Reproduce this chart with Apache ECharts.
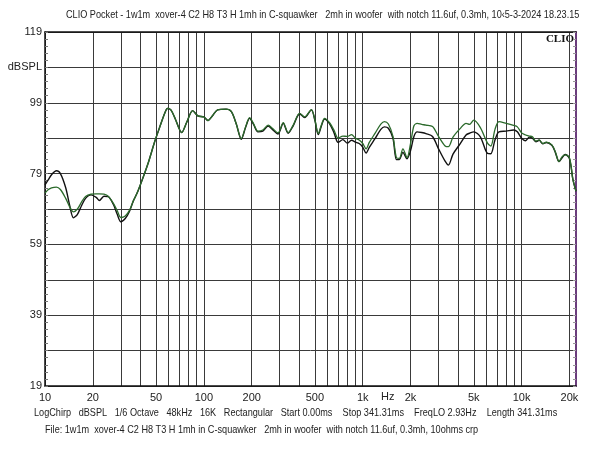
<!DOCTYPE html>
<html>
<head>
<meta charset="utf-8">
<title>CLIO Pocket response</title>
<style>
  html, body { margin: 0; padding: 0; background: #fff; }
  #main { width: 600px; height: 450px; }
</style>
</head>
<body>
<div id="main"></div>
<script src="https://cdn.jsdelivr.net/npm/echarts@6/dist/echarts.min.js"></script>
<script>
// measurement points, Hz
var freqs = [10, 10.5, 11, 11.8, 12.5, 13.5, 14.3, 15.1, 16, 17, 18, 19.5, 21, 22, 23.5, 25, 27, 28.5, 30, 32,
  34, 36, 38, 41.5, 45, 49, 52.8, 56.8, 59, 62, 66, 72.5, 78, 85, 91.6, 100, 106, 114, 122, 138,
  149, 160, 172, 183, 194, 205, 219, 235, 254, 270, 293, 316, 339, 365, 401, 431, 475, 500, 525, 550,
  575, 620, 660, 700, 750, 800, 850, 900, 950, 1000, 1050, 1100, 1200, 1300, 1370, 1450, 1550, 1630, 1700, 1790,
  1900, 2000, 2100, 2200, 2350, 2500, 2750, 3000, 3300, 3460, 3700, 4100, 4470, 4700, 5000, 5500, 6100, 6400, 6800, 7200,
  8000, 8900, 9400, 10000, 10600, 11200, 11700, 12300, 12900, 13600, 14300, 15500, 16300, 17200, 18000, 18800, 19900, 20500, 21000, 22000];

// black trace, dBSPL
var blackDb = [75.8, 77.3, 78.7, 79.8, 79.0, 75.0, 70.0, 66.5, 67.5, 70.0, 72.0, 73.0, 72.3, 71.4, 72.6, 72.5, 70.2, 67.5, 65.4, 66.3,
  68.3, 71.3, 73.5, 78.0, 82.5, 88.0, 92.2, 96.1, 97.4, 97.0, 94.5, 90.6, 93.5, 96.8, 95.3, 95.0, 94.0, 95.5, 97.0, 97.2,
  96.5, 93.0, 88.7, 92.0, 94.6, 93.0, 90.8, 91.0, 92.4, 91.5, 90.2, 93.2, 90.4, 92.5, 95.9, 94.8, 97.0, 94.0, 90.0, 92.5,
  94.4, 93.0, 90.5, 87.8, 88.6, 87.6, 88.4, 87.9, 87.5, 86.5, 84.8, 86.4, 89.0, 91.5, 92.2, 91.8, 89.0, 83.0, 83.0, 85.0,
  83.2, 85.5, 89.5, 90.8, 90.6, 90.3, 89.5, 86.0, 82.5, 81.4, 84.5, 87.4, 89.9, 90.4, 90.8, 89.4, 84.7, 84.6, 88.5, 90.8,
  91.0, 91.3, 90.8, 89.0, 88.3, 89.3, 89.0, 88.0, 88.4, 87.4, 87.8, 87.0, 85.0, 82.4, 83.5, 84.4, 83.5, 80.9, 77.5, 74.0];

// green trace, dBSPL
var greenDb = [73.5, 74.5, 75.0, 75.2, 74.5, 72.0, 69.6, 68.2, 69.0, 71.0, 72.5, 73.2, 73.3, 73.3, 73.2, 72.6, 70.5, 68.5, 66.6, 67.0,
  68.6, 71.3, 73.5, 78.0, 82.5, 88.0, 92.2, 96.1, 97.4, 97.0, 94.5, 90.6, 93.5, 96.8, 95.3, 95.0, 94.0, 95.5, 97.0, 97.2,
  96.5, 93.0, 88.9, 92.2, 94.8, 93.2, 91.0, 91.3, 92.7, 91.8, 90.5, 93.4, 90.6, 92.7, 96.0, 95.0, 97.1, 94.2, 90.3, 92.8,
  94.6, 93.3, 91.2, 89.0, 89.6, 89.5, 90.0, 89.0, 88.5, 87.5, 86.0, 87.8, 90.5, 93.0, 93.7, 93.0, 89.5, 83.5, 83.3, 86.0,
  83.5, 87.5, 92.5, 93.2, 92.9, 92.7, 92.3, 89.5, 86.8, 86.6, 89.3, 91.7, 93.2, 92.9, 94.1, 92.0, 87.6, 86.8, 91.5, 93.7,
  93.2, 92.6, 92.2, 90.5, 89.9, 89.6, 89.4, 88.2, 88.5, 87.5, 87.9, 87.1, 85.2, 82.4, 83.8, 84.3, 83.7, 81.0, 77.5, 74.0];

// vertical grid lines and labelled frequencies
var gridFreqs = [10, 20, 30, 40, 50, 60, 70, 80, 90, 100, 200, 300, 400, 500, 600, 700, 800, 900, 1000,
  2000, 3000, 4000, 5000, 6000, 7000, 8000, 9000, 10000, 20000];
var freqLabels = [10, 20, 50, 100, 200, 500, 1000, 2000, 5000, 10000, 20000];

// horizontal grid lines and labels
var dbLines = [19, 29, 39, 49, 59, 69, 79, 89, 99, 109, 119];
var dbLabels = [19, 39, 59, 79, 99, 109, 119];

var dbTicks = [];
for (var t = 19; t <= 119; t += 2) dbTicks.push(t);

function pairs(ys) {
  return freqs.map(function (f, i) { return [f, ys[i]]; });
}

// the header/footer font in the original is a narrow sans; squeeze Liberation Sans to fit
function narrowText(str, x, y) {
  return {
    type: 'text', x: x, y: y, scaleX: 0.83,
    style: { text: str, font: '11px "Liberation Sans"', fill: '#222', verticalAlign: 'middle' }
  };
}

var myChart = echarts.init(document.getElementById('main'));

var option = {
  animation: false,
  backgroundColor: '#fff',
  textStyle: { fontFamily: 'Liberation Sans' },
  grid: { left: 45, right: 24, top: 32, bottom: 64 },
  xAxis: [
    {
      type: 'log', logBase: 10, min: 10, max: 22000,
      axisLine: { show: true, lineStyle: { color: '#111', width: 1.5 } },
      axisTick: { show: false, customValues: gridFreqs },
      axisLabel: {
        customValues: freqLabels, margin: 6, color: '#222', fontSize: 11,
        formatter: function (v) { return v >= 1000 ? (v / 1000) + 'k' : String(v); }
      },
      splitLine: { show: true, lineStyle: { color: '#3a3a3a', width: 1 } }
    },
    {
      type: 'log', logBase: 10, min: 10, max: 22000, position: 'top',
      axisLine: { show: true, lineStyle: { color: '#111', width: 1.5 } },
      axisTick: { show: false }, axisLabel: { show: false }, splitLine: { show: false }
    }
  ],
  yAxis: [
    {
      type: 'value', min: 19, max: 119,
      axisLine: { show: true, lineStyle: { color: '#111', width: 1.5 } },
      axisTick: { show: false, customValues: dbLines },
      axisLabel: {
        customValues: dbLabels, margin: 3, color: '#222', fontSize: 11,
        formatter: function (v) { return v === 109 ? 'dBSPL' : String(v); }
      },
      splitLine: { show: true, lineStyle: { color: '#3a3a3a', width: 1 } }
    },
    {
      type: 'value', min: 19, max: 119, position: 'left',
      axisLine: { show: false },
      axisTick: { show: true, inside: true, length: 3, customValues: dbTicks, lineStyle: { color: '#777' } },
      axisLabel: { show: false }, splitLine: { show: false }
    },
    {
      type: 'value', min: 19, max: 119, position: 'right',
      axisLine: { show: true, lineStyle: { color: '#6a3c7c', width: 2 } },
      axisTick: { show: true, inside: true, length: 3, customValues: dbTicks, lineStyle: { color: '#999' } },
      axisLabel: { show: false }, splitLine: { show: false }
    }
  ],
  graphic: [
    narrowText('CLIO Pocket - 1w1m  xover-4 C2 H8 T3 H 1mh in C-squawker   2mh in woofer  with notch 11.6uf, 0.3mh, 10\u20395-3-2024 18.23.15', 66, 15),
    narrowText('LogChirp   dBSPL   1/6 Octave   48kHz   16K   Rectangular   Start 0.00ms    Stop 341.31ms    FreqLO 2.93Hz    Length 341.31ms', 34, 413),
    narrowText('File: 1w1m  xover-4 C2 H8 T3 H 1mh in C-squawker   2mh in woofer  with notch 11.6uf, 0.3mh, 10ohms crp', 45, 430),
    { type: 'text', left: 381, top: 391, style: { text: 'Hz', font: '11px "Liberation Sans"', fill: '#222' } },
    { type: 'text', right: 26, top: 34, style: { text: 'CLIO', font: 'bold 11px "Liberation Serif"', fill: '#111' } }
  ],
  series: [
    {
      name: 'black', type: 'line', data: pairs(blackDb),
      showSymbol: false, smooth: 0.3, z: 3,
      lineStyle: { color: '#111', width: 1.4 }
    },
    {
      name: 'green', type: 'line', data: pairs(greenDb),
      showSymbol: false, smooth: 0.3, z: 4,
      lineStyle: { color: '#2b6a2b', width: 1.3 }
    }
  ]
};

myChart.setOption(option);
</script>
</body>
</html>
